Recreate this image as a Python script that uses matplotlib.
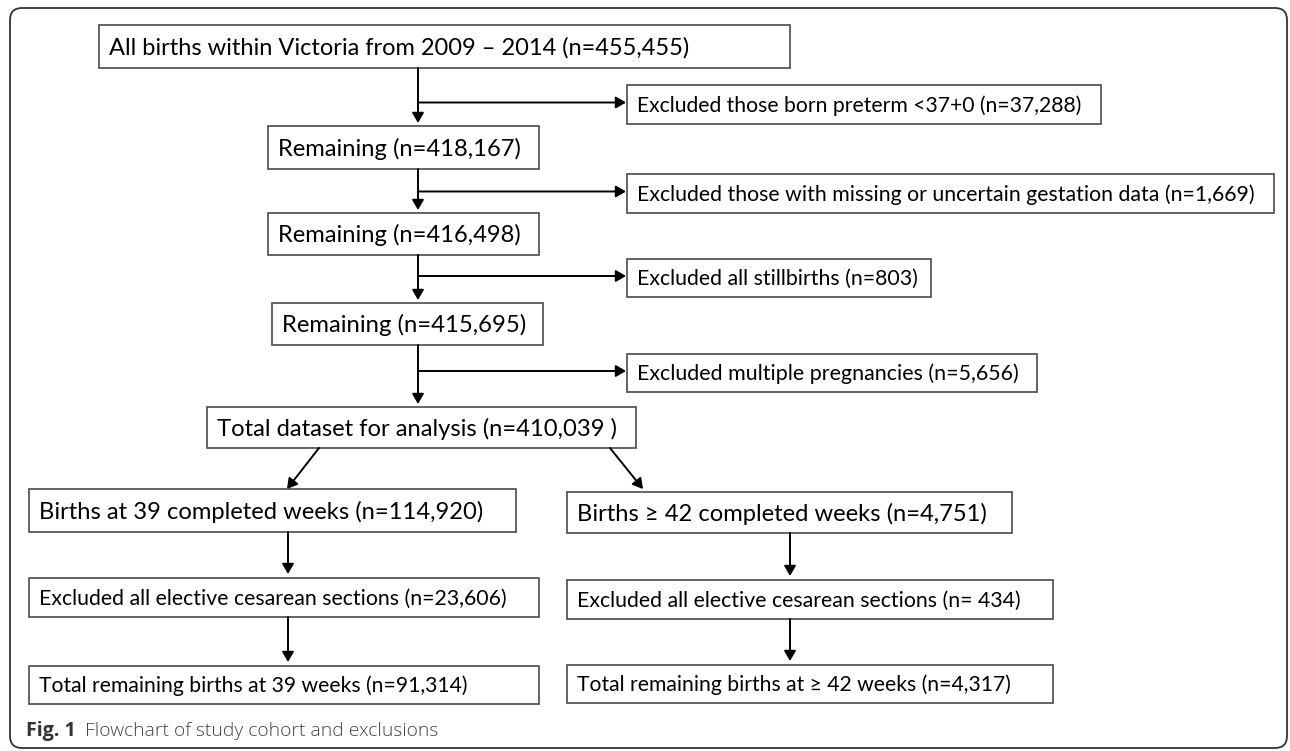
"""Cohort flowchart: births in Victoria 2009-2014 and exclusions."""

import matplotlib

matplotlib.use("Agg")

import matplotlib.pyplot as plt
from matplotlib.patches import FancyBboxPatch, Rectangle

W, H = 1290, 751

# box texts
main_labels = [
    "All births within Victoria from 2009 \u2013 2014 (n=455,455)",
    "Remaining (n=418,167)",
    "Remaining (n=416,498)",
    "Remaining (n=415,695)",
    "Total dataset for analysis (n=410,039 )",
]
branch_labels = [
    "Births at 39 completed weeks (n=114,920)",
    "Births \u2265 42 completed weeks (n=4,751)",
]
exclusion_labels = [
    "Excluded those born preterm <37+0 (n=37,288)",
    "Excluded those with missing or uncertain gestation data (n=1,669)",
    "Excluded all stillbirths (n=803)",
    "Excluded multiple pregnancies (n=5,656)",
]
sub_labels = [
    "Excluded all elective cesarean sections (n=23,606)",
    "Excluded all elective cesarean sections (n= 434)",
    "Total remaining births at 39 weeks (n=91,314)",
    "Total remaining births at \u2265 42 weeks (n=4,317)",
]
caption_bold = "Fig. 1"
caption_text = "Flowchart of study cohort and exclusions"

# layout in pixels: (left, top, right, bottom), plus target text width
main_boxes = [(99, 25, 790, 68), (268, 126, 539, 169), (268, 213, 539, 255),
              (272, 303, 543, 345), (207, 407, 636, 448)]
main_tw = [582, 244, 244, 245, 400]
branch_boxes = [(29, 489, 516, 532), (567, 492, 1012, 533)]
branch_tw = [446, 411]
excl_boxes = [(627, 85, 1101, 124), (627, 174, 1274, 213),
              (627, 259, 931, 297), (627, 354, 1037, 392)]
excl_tw = [445, 618, 281, 381]
sub_boxes = [(29, 578, 539, 617), (567, 580, 1053, 619),
             (29, 666, 539, 704), (567, 665, 1053, 703)]
sub_tw = [468, 444, 429, 435]

SPINE_X = 418
FONT = ["Lato", "DejaVu Sans"]

fig = plt.figure(figsize=(W / 100, H / 100), dpi=100)
ax = fig.add_axes([0, 0, 1, 1])
ax.set_xlim(0, W)
ax.set_ylim(H, 0)
ax.axis("off")
renderer = fig.canvas.get_renderer()


def fit_text(x, y, s, width, **kw):
    t = ax.text(x, y, s, fontsize=20, family=FONT, va="center", ha="left", **kw)
    w = t.get_window_extent(renderer).width
    t.set_fontsize(20 * width / w)
    return t


def draw_box(box, label, tw):
    x0, y0, x1, y1 = box
    ax.add_patch(Rectangle((x0, y0), x1 - x0, y1 - y0, fill=False,
                           edgecolor="#4a4a4a", linewidth=1.2))
    fit_text(x0 + 10, (y0 + y1) / 2 + 1, label, tw, color="black")


def arrow(x0, y0, x1, y1):
    ax.annotate("", xy=(x1, y1), xytext=(x0, y0),
                arrowprops=dict(arrowstyle="-|>,head_length=0.6,head_width=0.35",
                                mutation_scale=10, color="black", lw=1.4,
                                shrinkA=0, shrinkB=0))


# outer rounded frame
ax.add_patch(FancyBboxPatch((10, 8), 1277, 740, boxstyle="round,pad=0,rounding_size=12",
                            fill=False, edgecolor="#333333", linewidth=1.3))

for box, lab, tw in zip(main_boxes, main_labels, main_tw):
    draw_box(box, lab, tw)
for box, lab, tw in zip(branch_boxes, branch_labels, branch_tw):
    draw_box(box, lab, tw)
for box, lab, tw in zip(excl_boxes, exclusion_labels, excl_tw):
    draw_box(box, lab, tw)
for box, lab, tw in zip(sub_boxes, sub_labels, sub_tw):
    draw_box(box, lab, tw)

# main spine with exclusion branches
for upper, lower, ex in zip(main_boxes[:-1], main_boxes[1:], excl_boxes):
    arrow(SPINE_X, upper[3], SPINE_X, lower[1] - 3)
    ey = (ex[1] + ex[3]) / 2 - 2
    arrow(SPINE_X, ey, ex[0] - 1, ey)

# split into the two gestation groups
total = main_boxes[-1]
arrow(319, total[3], 287, branch_boxes[0][1])
arrow(610, total[3], 643, branch_boxes[1][1] - 3)

# columns below each group
for col_x, col in ((288, [branch_boxes[0], sub_boxes[0], sub_boxes[2]]),
                   (790, [branch_boxes[1], sub_boxes[1], sub_boxes[3]])):
    for upper, lower in zip(col[:-1], col[1:]):
        arrow(col_x, upper[3], col_x, lower[1] - 4)

# caption
cap = ax.text(26, 731, caption_bold, fontsize=20, family=["Open Sans", "DejaVu Sans"],
              fontweight="bold", color="#333333", va="center", ha="left")
cap.set_fontsize(20 * 50 / cap.get_window_extent(renderer).width)
cap2 = ax.text(85, 731, caption_text, fontsize=20, family=["Open Sans", "DejaVu Sans"],
               fontweight="light", color="#444444", va="center", ha="left")
cap2.set_fontsize(20 * 352 / cap2.get_window_extent(renderer).width)

fig.savefig("out.png", dpi=100, facecolor="white")
plt.close(fig)
